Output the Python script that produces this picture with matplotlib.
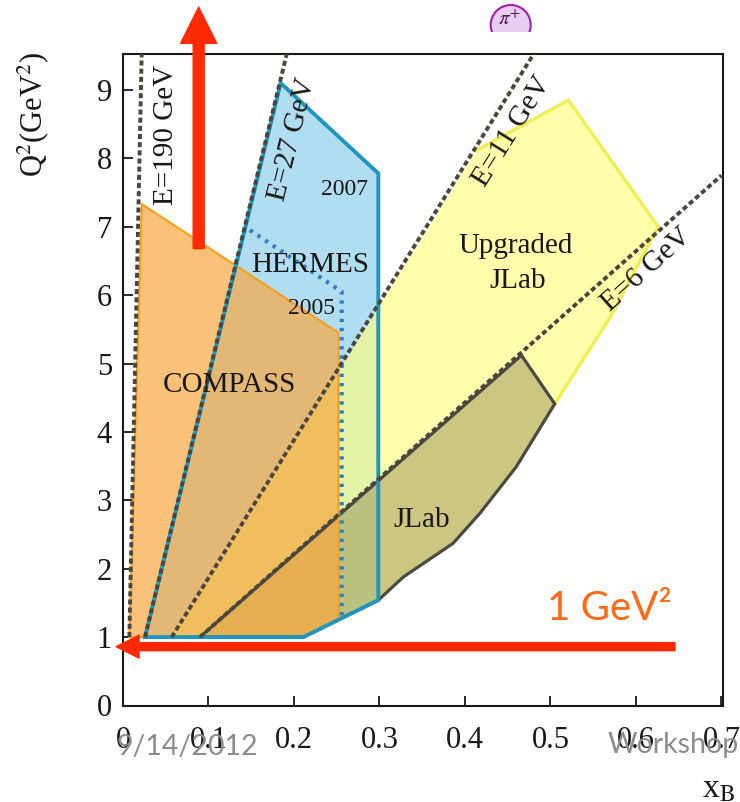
import matplotlib.pyplot as plt
from matplotlib.patches import Ellipse, Rectangle

plt.rcParams['font.family'] = ['Liberation Serif', 'DejaVu Serif']
plt.rcParams['mathtext.fontset'] = 'stix'

## == DATA (x_B, Q^2 in GeV^2) == ##
compass_x = [0.0074, 0.022, 0.252, 0.252, 0.211]
compass_q2 = [1.0, 7.33, 5.45, 1.25, 1.0]

hermes07_x = [0.0257, 0.1844, 0.2986, 0.2986, 0.211]
hermes07_q2 = [1.0, 9.10, 7.78, 1.54, 1.0]

hermes05_x = [0.1485, 0.2558, 0.2558]
hermes05_q2 = [6.95, 6.05, 1.28]

jlab12_x = [0.057, 0.414, 0.521, 0.626, 0.570, 0.505, 0.460, 0.4175, 0.386, 0.328, 0.2986, 0.211]
jlab12_q2 = [1.0, 8.12, 8.85, 7.0, 5.68, 4.41, 3.49, 2.81, 2.37, 1.88, 1.54, 1.0]

jlab6_x = [0.09, 0.466, 0.505, 0.460, 0.4175, 0.386, 0.328, 0.2986, 0.211]
jlab6_q2 = [1.0, 5.12, 4.41, 3.49, 2.81, 2.37, 1.88, 1.54, 1.0]

# beam energy lines, start and end points
beam_labels = ['E=190 GeV', 'E=27 GeV', 'E=11 GeV', 'E=6 GeV']
beam_x = [[0.0074, 0.0220], [0.0257, 0.193], [0.057, 0.484], [0.09, 0.70]]
beam_q2 = [[1.0, 9.6], [1.0, 9.6], [1.0, 9.6], [1.0, 7.75]]
beam_label_x = [0.050, 0.198, 0.4546, 0.6125]
beam_label_q2 = [8.34, 8.27, 8.39, 6.37]
beam_label_rot = [90, 76, 58, 42]

# region names
region_labels = ['COMPASS', 'HERMES', '2007', '2005', 'Upgraded', 'JLab', 'JLab']
region_label_x = [0.125, 0.2187, 0.2596, 0.2207, 0.459, 0.462, 0.350]
region_label_q2 = [4.59, 6.34, 7.46, 5.73, 6.61, 6.10, 2.61]
region_label_size = [21, 21, 17, 17, 21, 21, 21]

x_ticks = [0, 0.1, 0.2, 0.3, 0.4, 0.5, 0.6, 0.7]
x_tick_labels = ['0', '0.1', '0.2', '0.3', '0.4', '0.5', '0.6', '0.7']
y_ticks = [0, 1, 2, 3, 4, 5, 6, 7, 8, 9]

# overlay arrows (tail, tip)
up_arrow = [(0.0885, 6.68), (0.0885, 10.21)]
cut_arrow = [(0.6456, 0.86), (-0.008, 0.86)]

ink = '#1c1717'
red = '#ff2a00'

fig = plt.figure(figsize=(7.4, 8.02), dpi=100)
ax = fig.add_axes([123/740, 1-705.5/802, 600/740, 651.5/802])
ax.set_xlim(0, 0.7018)
ax.set_ylim(0, 9.525)

## == FILLS == ##
ax.fill(hermes07_x, hermes07_q2, color='#7cc8e6', alpha=0.6, lw=0, zorder=1)
ax.fill(jlab12_x, jlab12_q2, color='#ffff80', alpha=0.65, lw=0, zorder=2)
ax.fill(jlab6_x, jlab6_q2, color='#8c8450', alpha=0.45, lw=0, zorder=3)
ax.fill(compass_x, compass_q2, color='#f8a840', alpha=0.7, lw=0, zorder=4)

## == OUTLINES == ##
ax.plot(jlab12_x[1:6], jlab12_q2[1:6], color='#f0ee50', lw=2.3, zorder=5)
ax.fill(jlab6_x, jlab6_q2, fill=False, edgecolor='#4b4a40', lw=2.3, zorder=5)
ax.fill(compass_x, compass_q2, fill=False, edgecolor='#f5a020', lw=1.6, zorder=6)
ax.fill(hermes07_x, hermes07_q2, fill=False, edgecolor='#1e96be', lw=2.8, zorder=7)
ax.plot(hermes05_x, hermes05_q2, color='#2f7cc8', lw=3, ls=(0, (0.8, 1.4)), zorder=7)

for bx, bq in zip(beam_x, beam_q2):
    ax.plot(bx, bq, color='#4a463e', lw=2.8, ls=(0, (1.3, 0.8)), zorder=8)

for lab, lx, lq, rot in zip(beam_labels, beam_label_x, beam_label_q2, beam_label_rot):
    ax.text(lx, lq, lab, rotation=rot, rotation_mode='anchor', ha='center', va='center',
            fontsize=21, color=ink, zorder=9)

for lab, lx, lq, fs in zip(region_labels, region_label_x, region_label_q2, region_label_size):
    ax.text(lx, lq, lab, ha='center', va='baseline', fontsize=fs, color=ink, zorder=9)

## == AXES == ##
ax.set_xticks(x_ticks)
ax.set_xticklabels(x_tick_labels)
ax.set_yticks(y_ticks)
ax.tick_params(direction='in', length=7, width=1.3, labelsize=22, colors=ink)
ax.tick_params(axis='x', pad=15)
ax.tick_params(axis='y', pad=8)
for s in ax.spines.values():
    s.set_linewidth(1.5)
    s.set_color(ink)

fig.text(33/740, 1-114/802, r'Q$^2$(GeV$^2$)', rotation=90, ha='center', va='center',
         fontsize=22, color=ink)
fig.text(702/740, 1-797/802, r'x$_\mathrm{B}$', ha='left', va='baseline', fontsize=24, color=ink)

## == OVERLAYS == ##
ax.annotate('', xy=up_arrow[1], xytext=up_arrow[0], annotation_clip=False, zorder=10,
            arrowprops=dict(arrowstyle='simple,head_length=26,head_width=26,tail_width=7.9',
                            mutation_scale=1, color=red, shrinkA=0, shrinkB=0))
ax.annotate('', xy=cut_arrow[1], xytext=cut_arrow[0], annotation_clip=False, zorder=10,
            arrowprops=dict(arrowstyle='simple,head_length=16.5,head_width=16.5,tail_width=5.8',
                            mutation_scale=1, color=red, shrinkA=0, shrinkB=0))

ax.text(0.642, 1.25, '1 GeV²', ha='right', va='baseline', fontsize=29,
        family=['Lato', 'DejaVu Sans'], color='#ff6a13', zorder=10)

fig.text(117/740, 1-755/802, '9/14/2012', ha='left', va='baseline', fontsize=20.5,
         family=['Lato', 'DejaVu Sans'], color='#8c8c8c')
fig.text(608/740, 1-753/802, 'Workshop', ha='left', va='baseline', fontsize=20.5,
         family=['Lato', 'DejaVu Sans'], color='#8c8c8c')

# pi+ badge at the top, cut off at the bottom
badge = Ellipse((510.7/740, 1-25/802), 40/740, 40/802, transform=fig.transFigure,
                facecolor='#e9cdf2', edgecolor='#a020b0', lw=1.5)
fig.add_artist(badge)
badge.set_clip_path(Rectangle((0, 1-32/802), 1, 32/802, transform=fig.transFigure))
fig.text(510/740, 1-20/802, r'$\pi^{+}$', ha='center', va='center', fontsize=15, color='#4a1a55')

fig.savefig('out.png', dpi=100)
